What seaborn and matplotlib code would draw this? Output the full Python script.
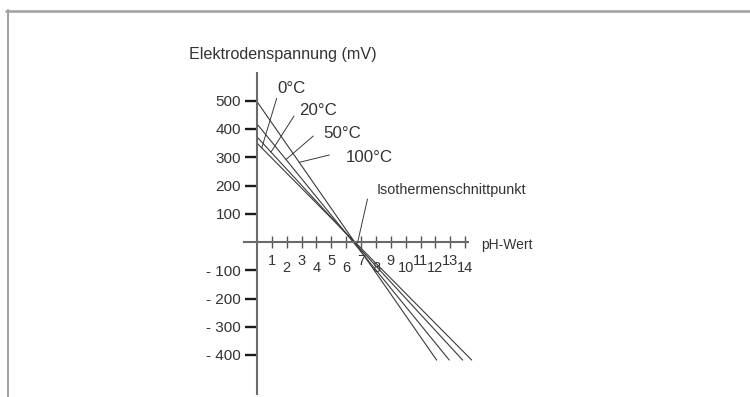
import numpy as np
import pandas as pd
import matplotlib
matplotlib.use("Agg")
import matplotlib.pyplot as plt
from matplotlib.transforms import Affine2D
from matplotlib.lines import Line2D
import seaborn as sns

# ---------------- data ----------------
temperatures = ["0°C", "20°C", "50°C", "100°C"]
ph_start = [0, 0, 0, 0]
mv_start = [350, 372, 418, 497]
ph_end = [14.44, 13.83, 12.93, 12.08]
mv_end = [-418, -418, -418, -418]

ph_ticks = list(range(1, 15))
mv_ticks = [500, 400, 300, 200, 100, -100, -200, -300, -400]
mv_tick_labels = ["500", "400", "300", "200", "100",
                  "- 100", "- 200", "- 300", "- 400"]

y_label = "Elektrodenspannung (mV)"
x_label = "pH-Wert"
isotherm_label = "Isothermenschnittpunkt"

# ---------------- style ----------------
sns.set_style("white")
plt.rcParams["font.family"] = ["Liberation Sans", "DejaVu Sans"]

W, H = 750, 397
fig = plt.figure(figsize=(W / 100, H / 100), dpi=100)
fig.patch.set_facecolor("white")
ax = fig.add_axes([0, 0, 1, 1])
ax.patch.set_alpha(0)

# pixel -> data mapping of the reference (x0=257px, 14.87 px per pH; y0=242px, 0.2825 px per mV)
ax.set_xlim((0 - 257) / 14.87, (W - 257) / 14.87)
ax.set_ylim((242 - H) / 0.2825, 242 / 0.2825)

# pixel transform (origin top-left)
T = Affine2D().scale(1 / W, -1 / H).translate(0, 1) + fig.transFigure

line_color = "#3a3a3a"
text_color = "#333333"

rows = []
for t, x0, y0, x1, y1 in zip(temperatures, ph_start, mv_start, ph_end, mv_end):
    rows.append({"Temperatur": t, "pH": x0, "mV": y0})
    rows.append({"Temperatur": t, "pH": x1, "mV": y1})
df = pd.DataFrame(rows)

sns.lineplot(data=df, x="pH", y="mV", hue="Temperatur", palette=[line_color] * 4,
             estimator=None, sort=False, legend=False, linewidth=0.8, ax=ax)
ax.set_xlabel("")
ax.set_ylabel("")
ax.grid(False)

# spines as crossing axes
for s in ["top", "right"]:
    ax.spines[s].set_visible(False)
ax.spines["left"].set_position(("data", 0))
ax.spines["left"].set_bounds(-538, 598)
ax.spines["bottom"].set_position(("data", 0))
ax.spines["bottom"].set_bounds(-0.874, 14.19)
for s in ["left", "bottom"]:
    ax.spines[s].set_color("#6a6a6a")
    ax.spines[s].set_linewidth(1.5)

ax.set_yticks(mv_ticks, mv_tick_labels)
ax.tick_params(axis="y", direction="out", length=8.6, width=1.7, color="#1a1a1a",
               pad=2.9, labelsize=11, labelcolor=text_color, left=True)
ax.set_xticks(ph_ticks, [str(v) for v in ph_ticks])
ax.tick_params(axis="x", direction="inout", length=8.6, width=1.0, color="#555555",
               labelsize=10.5, labelcolor=text_color, bottom=True)
for v, tk in zip(ph_ticks, ax.xaxis.get_major_ticks()):
    tk.set_pad(4.5 if v % 2 == 1 else 9.2)

# axis titles
ax.text(189, 59, y_label, transform=T, ha="left", va="baseline",
        fontsize=11.6, color=text_color)
ax.text(481, 249, x_label, transform=T, ha="left", va="baseline",
        fontsize=10, color=text_color)

# temperature labels with leader lines
label_px = [(277, 93), (299, 115), (323, 138), (346, 162)]
leader_px = [(276.7, 98.3), (294, 116), (313.3, 136), (329.3, 155)]
leader_ph = [0.32, 0.94, 1.95, 2.84]
for t, lp, ld, lph, x0, y0, x1, y1 in zip(temperatures, label_px, leader_px, leader_ph,
                                          ph_start, mv_start, ph_end, mv_end):
    ax.text(lp[0], lp[1], t, transform=T, ha="left", va="baseline",
            fontsize=12.2, color=text_color)
    ymv = np.interp(lph, [x0, x1], [y0, y1])
    ax.annotate("", xy=(lph, ymv), xycoords="data", xytext=ld, textcoords=T,
                arrowprops=dict(arrowstyle="-", color=line_color, lw=0.7,
                                shrinkA=0, shrinkB=0))

# isotherm intersection label
ax.text(376.7, 194, isotherm_label, transform=T, ha="left", va="baseline",
        fontsize=10.4, color=text_color)
ax.annotate("", xy=(357.5, 243), xycoords=T, xytext=(367.5, 199), textcoords=T,
            arrowprops=dict(arrowstyle="-", color=line_color, lw=0.7,
                            shrinkA=0, shrinkB=0))

# outer frame (top and left grey border)
fig.add_artist(Line2D([5.5, W], [10.5, 10.5], transform=T, color="#a3a3a3", lw=1.9))
fig.add_artist(Line2D([7.8, 7.8], [10, H], transform=T, color="#a3a3a3", lw=1.5))

fig.savefig("out.png", dpi=100)
